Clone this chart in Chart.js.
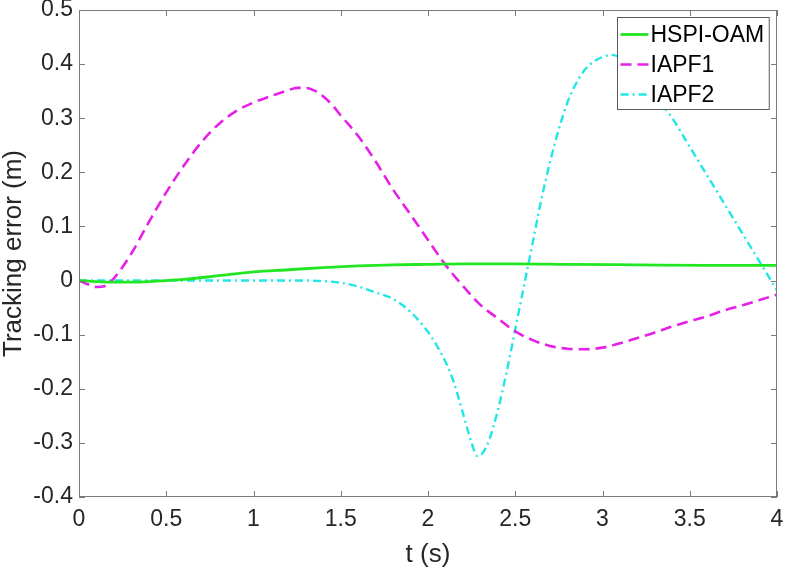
<!DOCTYPE html>
<html>
<head>
<meta charset="utf-8">
<script src="https://cdn.jsdelivr.net/npm/chart.js@4.4.0/dist/chart.umd.min.js"></script>
<style>
  html, body { margin: 0; padding: 0; background: #fff; }
  #chart_1 { display: block; }
</style>
</head>
<body>
<canvas id="chart_1" width="785" height="570"></canvas>
<script>
// values
const hspiT   = [0, 0.1, 0.2, 0.3, 0.4, 0.5, 0.6, 0.8, 1.0, 1.2, 1.4, 1.6, 1.8, 2.0, 2.2, 2.5, 2.8, 3.2, 3.6, 4.0];
const hspiErr = [0, -0.002, -0.003, -0.003, -0.002, 0, 0.002, 0.009, 0.016, 0.020, 0.024, 0.027, 0.029, 0.030, 0.031, 0.031, 0.030, 0.029, 0.028, 0.028];

const iapf1T   = [0, 0.05, 0.1, 0.15, 0.2, 0.3, 0.4, 0.5, 0.6, 0.7, 0.8, 0.9, 1.0, 1.1, 1.2, 1.25, 1.3, 1.35, 1.4, 1.45, 1.5, 1.6, 1.7, 1.8, 1.9, 2.0,
                  2.1, 2.2, 2.3, 2.4, 2.5, 2.6, 2.7, 2.8, 2.9, 3.0, 3.1, 3.2, 3.3, 3.4, 3.5, 3.6, 3.7, 3.8, 3.9, 4.0];
const iapf1Err = [0, -0.007, -0.012, -0.010, 0.004, 0.050, 0.108, 0.163, 0.212, 0.255, 0.289, 0.313, 0.329, 0.341, 0.352, 0.356, 0.356, 0.351, 0.340, 0.325, 0.305, 0.267, 0.220, 0.168, 0.122, 0.075,
                  0.029, -0.010, -0.045, -0.070, -0.094, -0.110, -0.121, -0.126, -0.127, -0.124, -0.116, -0.106, -0.096, -0.085, -0.075, -0.066, -0.055, -0.046, -0.036, -0.026];

const iapf2T   = [0, 0.5, 1.0, 1.3, 1.4, 1.5, 1.6, 1.7, 1.8, 1.9, 2.0, 2.05, 2.1, 2.15, 2.2, 2.25, 2.28, 2.31, 2.35, 2.4, 2.45, 2.5, 2.55, 2.6,
                  2.65, 2.7, 2.75, 2.8, 2.85, 2.9, 2.95, 3.0, 3.05, 3.1, 3.2, 3.3, 3.4, 3.5, 3.6, 3.7, 3.8, 3.9, 4.0];
const iapf2Err = [0, 0, 0, 0, -0.001, -0.004, -0.011, -0.022, -0.034, -0.058, -0.095, -0.120, -0.150, -0.190, -0.245, -0.300, -0.324, -0.320, -0.295, -0.240, -0.170, -0.090, -0.010, 0.070,
                  0.150, 0.220, 0.280, 0.330, 0.365, 0.390, 0.405, 0.413, 0.417, 0.412, 0.382, 0.342, 0.300, 0.247, 0.194, 0.141, 0.088, 0.035, -0.018];

const seriesNames = ['HSPI-OAM', 'IAPF1', 'IAPF2'];

function points(ts, vs) {
    return ts.map((t, i) => ({ x: t, y: vs[i] }));
}

const tickColor = '#262626';
const fontFamily = '"Liberation Sans", Arial, Helvetica, sans-serif';

// box round the axes with inward ticks, and the legend on top of the lines
const frameAndLegend = {
    id: 'frameAndLegend',
    afterDatasetsDraw(chart) {
        const ctx = chart.ctx;
        const a = chart.chartArea;
        const xs = chart.scales.x, ys = chart.scales.y;
        ctx.save();
        ctx.strokeStyle = '#7a7a7a';
        ctx.lineWidth = 1;
        ctx.setLineDash([]);
        ctx.strokeRect(a.left + 0.5, a.top + 0.5, a.right - a.left - 1, a.bottom - a.top - 1);
        const tl = 6;
        ctx.beginPath();
        for (const t of xs.ticks) {
            const px = Math.round(xs.getPixelForValue(t.value)) + 0.5;
            ctx.moveTo(px, a.bottom); ctx.lineTo(px, a.bottom - tl);
            ctx.moveTo(px, a.top); ctx.lineTo(px, a.top + tl);
        }
        for (const t of ys.ticks) {
            const py = Math.round(ys.getPixelForValue(t.value)) + 0.5;
            ctx.moveTo(a.left, py); ctx.lineTo(a.left + tl, py);
            ctx.moveTo(a.right, py); ctx.lineTo(a.right - tl, py);
        }
        ctx.stroke();

        // legend
        const sets = chart.data.datasets;
        ctx.font = '23px ' + fontFamily;
        const rowH = 30, sample = 28, padL = 3, gap = 2, padR = 5;
        const textW = Math.max(...sets.map(d => ctx.measureText(d.label).width));
        const w = padL + sample + gap + textW + padR;
        const h = rowH * sets.length + 2;
        const bx = Math.round(a.right - 8 - w) + 0.5, by = a.top + 7.5;
        ctx.fillStyle = '#fff';
        ctx.fillRect(bx, by, w, h);
        ctx.strokeStyle = '#5a5a5a';
        ctx.strokeRect(bx, by, w, h);
        sets.forEach((d, i) => {
            const cy = by + 2 + rowH / 2 + i * rowH;
            ctx.beginPath();
            ctx.setLineDash(d.borderDash || []);
            ctx.strokeStyle = d.borderColor;
            ctx.lineWidth = d.borderWidth;
            ctx.moveTo(bx + padL, cy);
            ctx.lineTo(bx + padL + sample, cy);
            ctx.stroke();
            ctx.setLineDash([]);
            ctx.fillStyle = '#000';
            ctx.textAlign = 'left';
            ctx.textBaseline = 'middle';
            ctx.fillText(d.label, bx + padL + sample + gap, cy + 1);
        });
        ctx.restore();
    }
};

new Chart('chart_1', {
    type: 'line',
    data: {
        datasets: [
            { label: seriesNames[0], data: points(hspiT, hspiErr), borderColor: '#22e622', borderWidth: 2.8 },
            { label: seriesNames[1], data: points(iapf1T, iapf1Err), borderColor: '#e620e6', borderWidth: 2.6, borderDash: [11, 6] },
            { label: seriesNames[2], data: points(iapf2T, iapf2Err), borderColor: '#22e6e6', borderWidth: 2.4, borderDash: [8, 4, 2, 4] },
        ],
    },
    options: {
        responsive: false,
        devicePixelRatio: 1,
        animation: false,
        layout: { padding: { top: 10, right: 8, left: 0, bottom: 0 } },
        elements: {
            point: { radius: 0 },
            line: { cubicInterpolationMode: 'monotone', borderCapStyle: 'butt' },
        },
        plugins: {
            legend: { display: false },
            tooltip: { enabled: false },
        },
        scales: {
            x: {
                type: 'linear',
                min: 0,
                max: 4,
                grid: { display: false, drawTicks: false },
                border: { display: false },
                ticks: {
                    stepSize: 0.5,
                    padding: 9,
                    color: tickColor,
                    font: { family: fontFamily, size: 23 },
                    maxRotation: 0,
                    callback: v => String(Math.round(v * 10) / 10),
                },
                title: {
                    display: true,
                    text: 't (s)',
                    color: tickColor,
                    font: { family: fontFamily, size: 26, lineHeight: 1.15 },
                    padding: 0,
                },
                afterFit(scale) {
                    scale.height = 73;
                    scale.paddingLeft = 0;
                    scale.paddingRight = 0;
                },
            },
            y: {
                min: -0.4,
                max: 0.5,
                grid: { display: false, drawTicks: false },
                border: { display: false },
                ticks: {
                    stepSize: 0.1,
                    padding: 6,
                    color: tickColor,
                    font: { family: fontFamily, size: 23 },
                    callback: v => String(Math.round(v * 10) / 10),
                },
                title: {
                    display: true,
                    text: 'Tracking error (m)',
                    color: tickColor,
                    font: { family: fontFamily, size: 26, lineHeight: 1.1 },
                    padding: 0,
                },
                afterFit(scale) {
                    scale.width = 79;
                    scale.paddingTop = 0;
                    scale.paddingBottom = 0;
                },
            },
        },
    },
    plugins: [frameAndLegend],
});
</script>
</body>
</html>
